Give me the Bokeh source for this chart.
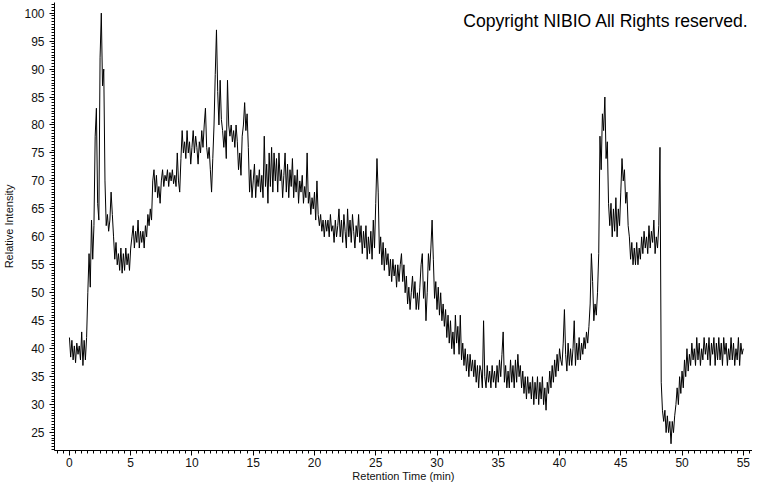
from bokeh.plotting import figure
from bokeh.models import Range1d, SingleIntervalTicker, Label, ColumnDataSource
from bokeh.embed import file_html
from bokeh.resources import INLINE

# Relative intensity, one value every 0.1 min
seg_00_05 = [
    42.0, 38.5, 41.5, 38.0, 40.5, 37.5, 41.0, 39.0, 40.5, 38.0,
    43.0, 37.0, 41.5, 38.0, 42.0, 50.0, 57.0, 51.0, 63.0, 56.0,
    62.0, 78.0, 83.0, 66.0, 63.0, 92.0, 100.0, 87.0, 90.0, 70.0,
    62.0, 64.0, 61.0, 63.0, 68.0, 64.0, 60.0, 56.0, 59.0, 55.0,
    57.0, 54.0, 58.0, 53.5, 57.0, 54.0, 58.0, 55.0, 57.0, 54.0,
]
seg_05_10 = [
    58, 60, 62, 58, 61, 59, 63, 58, 61, 59,
    61, 58, 62, 60, 64, 62, 65, 63, 70, 72,
    68, 71, 67, 69, 66, 70, 72, 69, 71, 70,
    72, 69, 71.5, 70, 72, 69.5, 71, 69, 75, 70,
    68, 74, 79, 75, 77, 74, 79, 75, 77, 73,
]
seg_10_15 = [
    76, 79, 75, 78, 76, 73, 77, 75, 79, 76,
    80, 83, 76, 74, 76, 72, 68, 74, 80, 89,
    97, 86, 80, 88, 81, 79, 76, 79, 74, 88,
    80, 78, 80, 77, 79, 76, 80, 77, 72, 75,
    71, 78, 80, 84, 79, 82, 76, 68, 72, 67,
]
seg_15_20 = [
    70, 73, 67, 71, 69, 72, 68, 71, 67, 78,
    69, 73, 66, 75, 69, 76, 68, 75, 70, 74,
    68, 75, 70, 72, 67, 71, 75, 68, 73, 67,
    72, 69, 74, 67, 71, 68, 72, 66, 70, 68,
    71, 66, 69, 67, 75, 66, 68, 64, 67, 65,
]
seg_20_25 = [
    68, 63, 70, 64, 62, 64, 61, 63, 60, 63,
    61, 63, 60, 64, 61, 62, 59, 63, 60, 62,
    65, 60, 63, 59, 64, 61, 58, 65, 60, 63,
    59, 64, 61, 58, 62, 60, 64, 59, 62, 57,
    61, 58, 62, 56, 60, 57, 61, 56, 63, 58,
]
seg_25_30 = [
    66, 74, 68, 57, 60, 55, 59, 54, 58, 55,
    57, 53, 56, 52, 56, 53, 55, 51, 55, 52,
    55, 57, 52, 55, 50, 53, 48, 51, 47, 50,
    53, 49, 52, 47, 50, 47, 51, 55, 57, 49,
    52, 45, 50, 57, 54, 58, 63, 56, 49, 52,
]
seg_30_35 = [
    47, 51, 46, 50, 45, 48, 44, 47, 42, 46,
    41, 45, 40, 43, 39, 46, 41, 44, 39, 46,
    38, 41, 37, 40, 36, 39, 35, 39, 36, 38,
    35, 38, 34, 37, 33, 37, 36, 33, 45, 35,
    33, 37, 34, 36, 33, 37, 34, 36, 33, 37,
]
seg_35_40 = [
    34, 38, 35, 39, 43, 34, 37, 33, 36, 33,
    38, 34, 37, 33, 38, 34, 39, 35, 37, 33,
    36, 32, 35, 31, 35, 32, 34, 31, 35, 30,
    34, 31, 35, 30, 34, 31, 35, 30, 33, 29,
    34, 32, 36, 33, 37, 34, 38, 35, 39, 36,
]
seg_40_45 = [
    40, 38, 37, 41, 47, 39, 36, 41, 37, 40,
    37, 40, 45, 37, 41, 38, 42, 38, 41, 39,
    42, 40, 43, 41, 44, 48, 57, 52, 45, 48,
    46, 50, 57, 78, 72, 82, 79, 85, 74, 77,
    66, 62, 66, 60, 65, 61, 67, 60, 65, 62,
]
seg_45_50 = [
    68, 74, 70, 72, 66, 68, 62, 60, 56, 59,
    55, 58, 55, 59, 55, 58, 56, 60, 57, 61,
    58, 60, 57, 62, 58, 61, 59, 63, 57, 60,
    58, 62, 76, 34, 29, 27, 29, 25, 28, 25,
    27, 23, 27, 25, 28, 30, 33, 30, 35, 32,
]
seg_50_55 = [
    36, 33, 38, 35, 40, 36, 39, 37, 41, 38,
    40, 37, 42, 38, 41, 37, 40, 38, 42, 39,
    41, 38, 42, 37, 41, 39, 42, 37, 41, 38,
    42, 38, 41, 37, 42, 39, 41, 37, 40, 38,
    42, 38, 41, 37, 40, 38, 42, 37, 41, 39,
    40,
]

TIME_START = 0.0
TIME_STEP = 0.1
intensity = (seg_00_05 + seg_05_10 + seg_10_15 + seg_15_20 + seg_20_25 +
             seg_25_30 + seg_30_35 + seg_35_40 + seg_40_45 + seg_45_50 + seg_50_55)
retention_time = [round(TIME_START + i * TIME_STEP, 2) for i in range(len(intensity))]

title_text = "Copyright NIBIO All Rights reserved."
x_label = "Retention Time (min)"
y_label = "Relative Intensity"

src = ColumnDataSource(data=dict(t=retention_time, v=intensity))

p = figure(width=752, height=484, output_backend="svg", toolbar_location=None,
           x_range=Range1d(-1.22, 55.75), y_range=Range1d(21.8, 101.9),
           min_border_left=53, min_border_right=0, min_border_top=2,
           min_border_bottom=10)
p.background_fill_color = "white"
p.border_fill_color = "white"
p.outline_line_color = None
p.xgrid.visible = False
p.ygrid.visible = False

p.line("t", "v", source=src, line_color="black", line_width=1)

for ax in (p.xaxis[0], p.yaxis[0]):
    ax.ticker = SingleIntervalTicker(interval=5, num_minor_ticks=10)
    ax.axis_line_color = "black"
    ax.major_tick_line_color = "black"
    ax.minor_tick_line_color = "black"
    ax.major_tick_in = 0
    ax.major_tick_out = 5
    ax.minor_tick_in = 0
    ax.minor_tick_out = 3
    ax.major_label_text_font = "Liberation Sans"
    ax.major_label_text_font_size = "12px"
    ax.major_label_text_color = "#111111"
    ax.axis_label_text_font = "Liberation Sans"
    ax.axis_label_text_font_size = "11px"
    ax.axis_label_text_font_style = "normal"
    ax.axis_label_text_color = "#111111"

p.xaxis.axis_label = x_label
p.yaxis.axis_label = y_label
p.xaxis.major_label_standoff = 2
p.xaxis.axis_label_standoff = 0
p.yaxis.major_label_standoff = 5
p.yaxis.axis_label_standoff = 6

p.add_layout(Label(x=55.44, y=98.58, text=title_text, text_align="right",
                   text_baseline="alphabetic", text_font="Liberation Sans",
                   text_font_size="17.6px", text_color="black"))

open("out.html", "w").write(file_html(p, INLINE))
